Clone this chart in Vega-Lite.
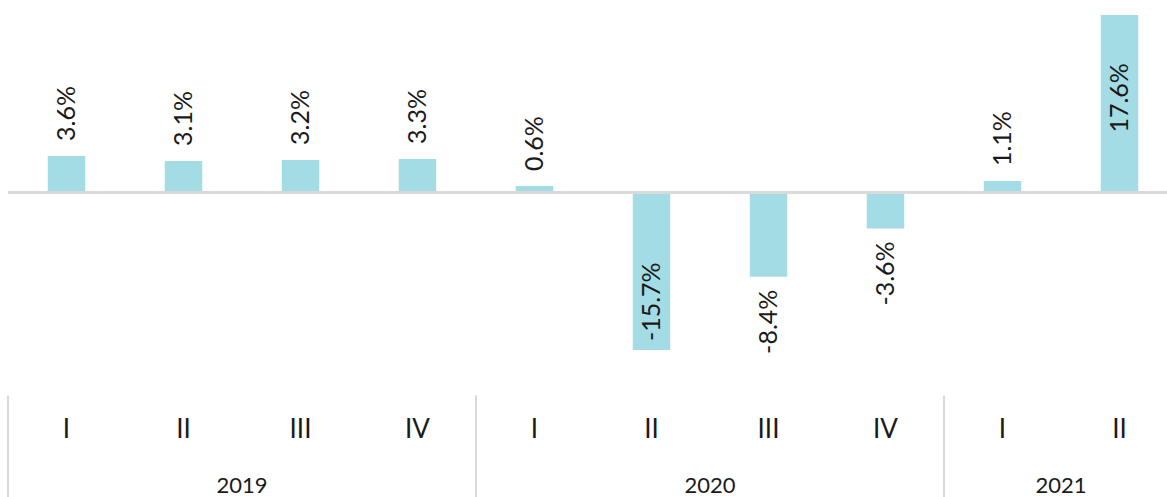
{
  "$schema": "https://vega.github.io/schema/vega-lite/v6.json",
  "width": 1159,
  "height": 497,
  "padding": {"left": 8, "top": 0, "right": 0, "bottom": 0},
  "autosize": {"type": "none"},
  "config": {"view": {"stroke": null}, "font": "Lato"},
  "datasets": {
    "q": [
      {"year": "2019", "q": "I", "key": "2019-I", "value": 3.6, "label": "3.6%"},
      {"year": "2019", "q": "II", "key": "2019-II", "value": 3.1, "label": "3.1%"},
      {"year": "2019", "q": "III", "key": "2019-III", "value": 3.2, "label": "3.2%"},
      {"year": "2019", "q": "IV", "key": "2019-IV", "value": 3.3, "label": "3.3%"},
      {"year": "2020", "q": "I", "key": "2020-I", "value": 0.6, "label": "0.6%"},
      {"year": "2020", "q": "II", "key": "2020-II", "value": -15.7, "label": "-15.7%"},
      {"year": "2020", "q": "III", "key": "2020-III", "value": -8.4, "label": "-8.4%"},
      {"year": "2020", "q": "IV", "key": "2020-IV", "value": -3.6, "label": "-3.6%"},
      {"year": "2021", "q": "I", "key": "2021-I", "value": 1.1, "label": "1.1%"},
      {"year": "2021", "q": "II", "key": "2021-II", "value": 17.6, "label": "17.6%"}
    ],
    "years": [
      {"year": "2019", "first": "2019-I", "mid": "2019-II"},
      {"year": "2020", "first": "2020-I", "mid": "2020-II"},
      {"year": "2021", "first": "2021-I", "mid": "2021-I"}
    ]
  },
  "resolve": {"scale": {"x": "shared", "y": "shared"}},
  "layer": [
    {
      "data": {"name": "q"},
      "mark": {"type": "bar", "width": {"band": 0.32}, "color": "#A3DCE4"},
      "encoding": {
        "x": {"field": "key", "type": "nominal", "axis": null,
              "scale": {"domain": ["2019-I","2019-II","2019-III","2019-IV","2020-I","2020-II","2020-III","2020-IV","2021-I","2021-II"],
                        "range": [0, 1170], "paddingInner": 0, "paddingOuter": 0}},
        "y": {"field": "value", "type": "quantitative", "axis": null,
              "scale": {"domain": [-30.3, 19.1], "nice": false, "zero": false}},
        "y2": {"datum": 0}
      }
    },
    {
      "data": {"name": "q"},
      "mark": {"type": "rule", "color": "#D9D9D9", "strokeWidth": 2},
      "encoding": {"y": {"datum": 0, "type": "quantitative"}}
    },
    {
      "data": {"name": "q"},
      "transform": [{"filter": "datum.value > 0 && datum.value < 15"}],
      "mark": {"type": "text", "angle": 270, "align": "left", "baseline": "middle", "dx": 15, "fontSize": 25, "color": "#1a1a1a"},
      "encoding": {
        "x": {"field": "key", "type": "nominal"},
        "y": {"field": "value", "type": "quantitative"},
        "text": {"field": "label"}
      }
    },
    {
      "data": {"name": "q"},
      "transform": [{"filter": "datum.value >= 15"}],
      "mark": {"type": "text", "angle": 270, "align": "right", "baseline": "middle", "dx": -48, "fontSize": 25, "color": "#1a1a1a"},
      "encoding": {
        "x": {"field": "key", "type": "nominal"},
        "y": {"field": "value", "type": "quantitative"},
        "text": {"field": "label"}
      }
    },
    {
      "data": {"name": "q"},
      "transform": [{"filter": "datum.value < 0 && datum.value > -12"}],
      "mark": {"type": "text", "angle": 270, "align": "right", "baseline": "middle", "dx": -13, "fontSize": 25, "color": "#1a1a1a"},
      "encoding": {
        "x": {"field": "key", "type": "nominal"},
        "y": {"field": "value", "type": "quantitative"},
        "text": {"field": "label"}
      }
    },
    {
      "data": {"name": "q"},
      "transform": [{"filter": "datum.value <= -12"}],
      "mark": {"type": "text", "angle": 270, "align": "left", "baseline": "middle", "dx": 9, "fontSize": 25, "color": "#1a1a1a"},
      "encoding": {
        "x": {"field": "key", "type": "nominal"},
        "y": {"field": "value", "type": "quantitative"},
        "text": {"field": "label"}
      }
    },
    {
      "data": {"name": "q"},
      "mark": {"type": "text", "align": "center", "baseline": "middle", "fontSize": 26, "color": "#1a1a1a"},
      "encoding": {
        "x": {"field": "key", "type": "nominal"},
        "y": {"datum": -23.6, "type": "quantitative"},
        "text": {"field": "q"}
      }
    },
    {
      "data": {"name": "years"},
      "mark": {"type": "rule", "color": "#D9D9D9", "strokeWidth": 2},
      "encoding": {
        "x": {"field": "first", "type": "nominal", "bandPosition": 0},
        "y": {"datum": -20.2, "type": "quantitative"},
        "y2": {"datum": -30.3}
      }
    },
    {
      "data": {"name": "years"},
      "mark": {"type": "text", "align": "center", "baseline": "middle", "fontSize": 22, "color": "#1a1a1a"},
      "encoding": {
        "x": {"field": "mid", "type": "nominal", "bandPosition": 1},
        "y": {"datum": -29.2, "type": "quantitative"},
        "text": {"field": "year"}
      }
    }
  ]
}
